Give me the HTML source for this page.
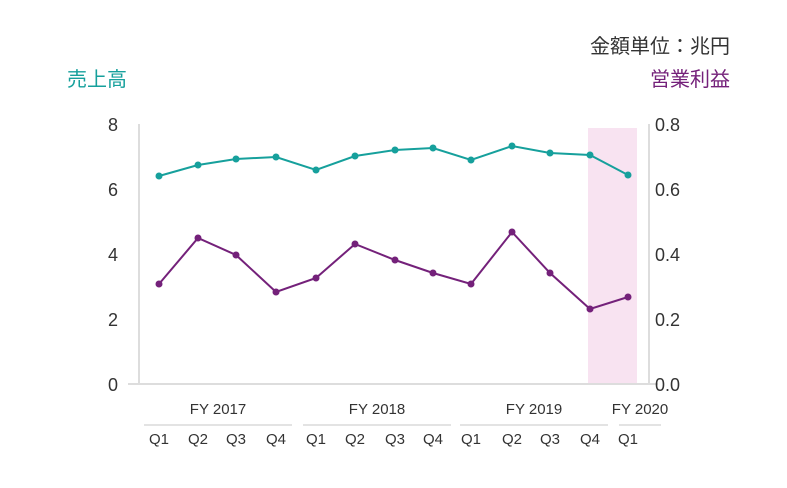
<!DOCTYPE html>
<html><head><meta charset="utf-8"><style>
body{margin:0;background:#fff;}
svg text{font-family:"Liberation Sans","Noto Sans CJK JP",sans-serif;}
</style></head><body>
<svg width="787" height="483" viewBox="0 0 787 483" xmlns="http://www.w3.org/2000/svg">
<rect width="787" height="483" fill="#fff"/>
<text x="730" y="53" font-size="20" fill="#333" text-anchor="end">金額単位：兆円</text>
<text x="67" y="86" font-size="20" fill="#16a09c">売上高</text>
<text x="730" y="86" font-size="20" fill="#74217a" text-anchor="end">営業利益</text>
<rect x="588" y="128" width="49" height="256" fill="#f8e3f1"/>
<line x1="139" y1="124" x2="139" y2="384" stroke="#ddd" stroke-width="2"/>
<line x1="649" y1="124" x2="649" y2="384" stroke="#ddd" stroke-width="2"/>
<line x1="128" y1="384" x2="658" y2="384" stroke="#ddd" stroke-width="2"/>
<g font-size="18" fill="#333" text-anchor="end">
<text x="118" y="131">8</text><text x="118" y="196">6</text><text x="118" y="261">4</text><text x="118" y="326">2</text><text x="118" y="391">0</text>
</g>
<g font-size="18" fill="#333">
<text x="655" y="131">0.8</text><text x="655" y="196">0.6</text><text x="655" y="261">0.4</text><text x="655" y="326">0.2</text><text x="655" y="391">0.0</text>
</g>
<polyline fill="none" stroke="#16a09c" stroke-width="2" points="159,176 198,165 236,159 276,157 316,170 355,156 395,150 433,148 471,160 512,146 550,153 590,155 628,175"/>
<g fill="#16a09c">
<circle cx="159" cy="176" r="3.5"/><circle cx="198" cy="165" r="3.5"/><circle cx="236" cy="159" r="3.5"/><circle cx="276" cy="157" r="3.5"/><circle cx="316" cy="170" r="3.5"/><circle cx="355" cy="156" r="3.5"/><circle cx="395" cy="150" r="3.5"/><circle cx="433" cy="148" r="3.5"/><circle cx="471" cy="160" r="3.5"/><circle cx="512" cy="146" r="3.5"/><circle cx="550" cy="153" r="3.5"/><circle cx="590" cy="155" r="3.5"/><circle cx="628" cy="175" r="3.5"/>
</g>
<polyline fill="none" stroke="#74217a" stroke-width="2" points="159,284 198,238 236,255 276,292 316,278 355,244 395,260 433,273 471,284 512,232 550,273 590,309 628,297"/>
<g fill="#74217a">
<circle cx="159" cy="284" r="3.5"/><circle cx="198" cy="238" r="3.5"/><circle cx="236" cy="255" r="3.5"/><circle cx="276" cy="292" r="3.5"/><circle cx="316" cy="278" r="3.5"/><circle cx="355" cy="244" r="3.5"/><circle cx="395" cy="260" r="3.5"/><circle cx="433" cy="273" r="3.5"/><circle cx="471" cy="284" r="3.5"/><circle cx="512" cy="232" r="3.5"/><circle cx="550" cy="273" r="3.5"/><circle cx="590" cy="309" r="3.5"/><circle cx="628" cy="297" r="3.5"/>
</g>
<g font-size="15" fill="#333" text-anchor="middle">
<text x="218" y="414">FY 2017</text><text x="377" y="414">FY 2018</text><text x="534" y="414">FY 2019</text><text x="640" y="414">FY 2020</text>
</g>
<g stroke="#e3e3e3" stroke-width="2">
<line x1="144" y1="425" x2="292" y2="425"/><line x1="303" y1="425" x2="451" y2="425"/><line x1="460" y1="425" x2="608" y2="425"/><line x1="619" y1="425" x2="661" y2="425"/>
</g>
<g font-size="15" fill="#333" text-anchor="middle">
<text x="159" y="444">Q1</text><text x="198" y="444">Q2</text><text x="236" y="444">Q3</text><text x="276" y="444">Q4</text>
<text x="316" y="444">Q1</text><text x="355" y="444">Q2</text><text x="395" y="444">Q3</text><text x="433" y="444">Q4</text>
<text x="471" y="444">Q1</text><text x="512" y="444">Q2</text><text x="550" y="444">Q3</text><text x="590" y="444">Q4</text>
<text x="628" y="444">Q1</text>
</g>
</svg>
</body></html>
